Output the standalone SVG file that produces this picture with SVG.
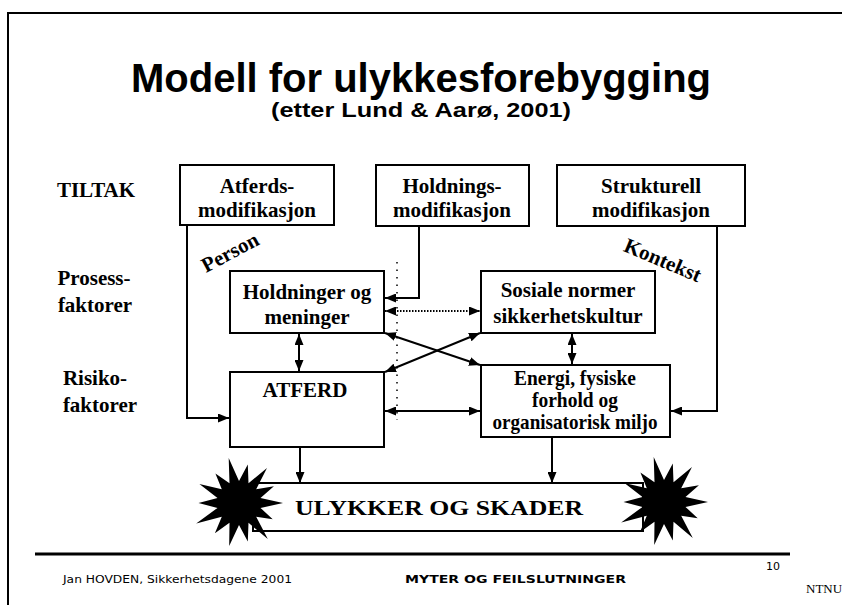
<svg xmlns="http://www.w3.org/2000/svg" width="842" height="605" viewBox="0 0 842 605">
<style>
.box{fill:#fff;stroke:#000;stroke-width:2}
.bt{font-family:"Liberation Serif","Times New Roman",serif;font-weight:bold;font-size:21px;text-anchor:middle;fill:#000}
.lbl{font-family:"Liberation Serif","Times New Roman",serif;font-weight:bold;font-size:21px;text-anchor:middle;fill:#000}
.ln{fill:none;stroke:#000;stroke-width:2}
.dot{fill:none;stroke:#000;stroke-width:2;stroke-dasharray:1.5 1.5}
.sparse{fill:none;stroke:#000;stroke-width:1.5;stroke-dasharray:1.5 6}
.ft{font-family:"DejaVu Sans","Verdana",sans-serif;font-size:11px;fill:#000}
</style>
<defs>
<marker id="ah" markerUnits="userSpaceOnUse" markerWidth="11" markerHeight="9" refX="11" refY="4.5" orient="auto-start-reverse">
<path d="M0,0 L11,4.5 L0,9 z" fill="#000"/>
</marker>
<polygon id="star" fill="#000" points="44,0 21.5,4.9 33.7,16.2 17.2,13.7 28.8,36.1 9.5,19.8 8.8,38.6 0,22 -9.8,42.9 -9.5,19.8 -24.1,30.3 -17.2,13.7 -42.8,20.6 -21.5,4.9 -40.5,0 -21.5,-4.9 -39.6,-19.1 -17.2,-13.7 -23.6,-29.6 -9.5,-19.8 -10.3,-45 0,-22 8.8,-38.6 9.5,-19.8 28,-35.1 17.2,-13.7 34.9,-16.8 21.5,-4.9"/>
</defs>
<rect width="842" height="605" fill="#fff"/>
<g id="frame">
<path class="ln" d="M8,605 V13 H842"/>
</g>
<g id="title">
<text x="421" y="92" font-family="Liberation Sans, Arial, sans-serif" font-weight="bold" font-size="40" text-anchor="middle">Modell for ulykkesforebygging</text>
<text x="421" y="117" font-family="Liberation Sans, Arial, sans-serif" font-weight="bold" font-size="20" text-anchor="middle" textLength="300" lengthAdjust="spacingAndGlyphs">(etter Lund &amp; Aarø, 2001)</text>
</g>
<g id="row-labels">
<text class="lbl" x="96" y="197">TILTAK</text>
<text class="lbl" x="94" y="285">Prosess-</text>
<text class="lbl" x="95" y="312">faktorer</text>
<text class="lbl" x="95" y="385">Risiko-</text>
<text class="lbl" x="100" y="412">faktorer</text>
</g>
<g id="connectors">
<path class="ln" d="M187,225 V418 H229" marker-end="url(#ah)"/>
<path class="ln" d="M419,226 V298 H385" marker-end="url(#ah)"/>
<path class="ln" d="M717,226 V411 H671" marker-end="url(#ah)"/>
<path class="dot" d="M385,311 H480" marker-start="url(#ah)" marker-end="url(#ah)"/>
<path class="ln" d="M299,334 V371" marker-start="url(#ah)" marker-end="url(#ah)"/>
<path class="ln" d="M572,334 V364" marker-start="url(#ah)" marker-end="url(#ah)"/>
<path class="ln" d="M385,333 L480,365" marker-start="url(#ah)" marker-end="url(#ah)"/>
<path class="ln" d="M385,372 L480,333" marker-start="url(#ah)" marker-end="url(#ah)"/>
<path class="ln" d="M385,411 H480" marker-start="url(#ah)" marker-end="url(#ah)"/>
<path class="ln" d="M300,448 V483" marker-end="url(#ah)"/>
<path class="ln" d="M552,438 V483" marker-end="url(#ah)"/>
<path class="sparse" d="M397,262 V420"/>
</g>
<g id="atferdsmod">
<rect class="box" x="180" y="165" width="154" height="60"/>
<text class="bt" x="257" y="193">Atferds-</text>
<text class="bt" x="257" y="217">modifikasjon</text>
</g>
<g id="holdningsmod">
<rect class="box" x="376" y="165" width="153" height="61"/>
<text class="bt" x="452" y="193">Holdnings-</text>
<text class="bt" x="452" y="217">modifikasjon</text>
</g>
<g id="strukturellmod">
<rect class="box" x="557" y="165" width="188" height="61"/>
<text class="bt" x="651" y="193">Strukturell</text>
<text class="bt" x="651" y="217">modifikasjon</text>
</g>
<g id="holdninger">
<rect class="box" x="230" y="271" width="154" height="62"/>
<text class="bt" x="307" y="299">Holdninger og</text>
<text class="bt" x="307" y="324">meninger</text>
</g>
<g id="sosiale">
<rect class="box" x="481" y="271" width="174" height="62"/>
<text class="bt" x="568" y="297">Sosiale normer</text>
<text class="bt" x="568" y="323">sikkerhetskultur</text>
</g>
<g id="atferd">
<rect class="box" x="230" y="372" width="154" height="75"/>
<text class="bt" x="305" y="397">ATFERD</text>
</g>
<g id="energi">
<rect class="box" x="481" y="365" width="189" height="72"/>
<text class="bt" x="575" y="385" font-size="16.5" textLength="122" lengthAdjust="spacingAndGlyphs">Energi, fysiske</text>
<text class="bt" x="575" y="407" font-size="16.5" textLength="86" lengthAdjust="spacingAndGlyphs">forhold og</text>
<text class="bt" x="575" y="429" font-size="16.5" textLength="165" lengthAdjust="spacingAndGlyphs">organisatorisk miljo</text>
</g>
<g id="side-labels">
<text class="bt" font-size="18" transform="translate(231,254) rotate(-28)" y="5">Person</text>
<text class="bt" font-size="18" transform="translate(662,262) rotate(23)" y="5">Kontekst</text>
</g>
<g id="ulykker">
<rect class="box" x="253" y="483" width="390" height="48"/>
<text class="bt" x="439" y="515" font-size="32" textLength="288" lengthAdjust="spacingAndGlyphs">ULYKKER OG SKADER</text>
<use href="#star" x="239" y="503"/>
<use href="#star" x="664" y="502"/>
</g>
<g id="footer">
<path d="M35,554 H790" stroke="#000" stroke-width="3"/>
<text class="ft" x="63" y="583" textLength="229" lengthAdjust="spacingAndGlyphs">Jan HOVDEN, Sikkerhetsdagene 2001</text>
<text class="ft" x="405" y="583" font-weight="bold" textLength="221" lengthAdjust="spacingAndGlyphs">MYTER OG FEILSLUTNINGER</text>
<text class="ft" x="766" y="570" font-size="9">10</text>
<text x="806" y="593" font-family="Liberation Serif, serif" font-size="13">NTNU</text>
</g>
</svg>
